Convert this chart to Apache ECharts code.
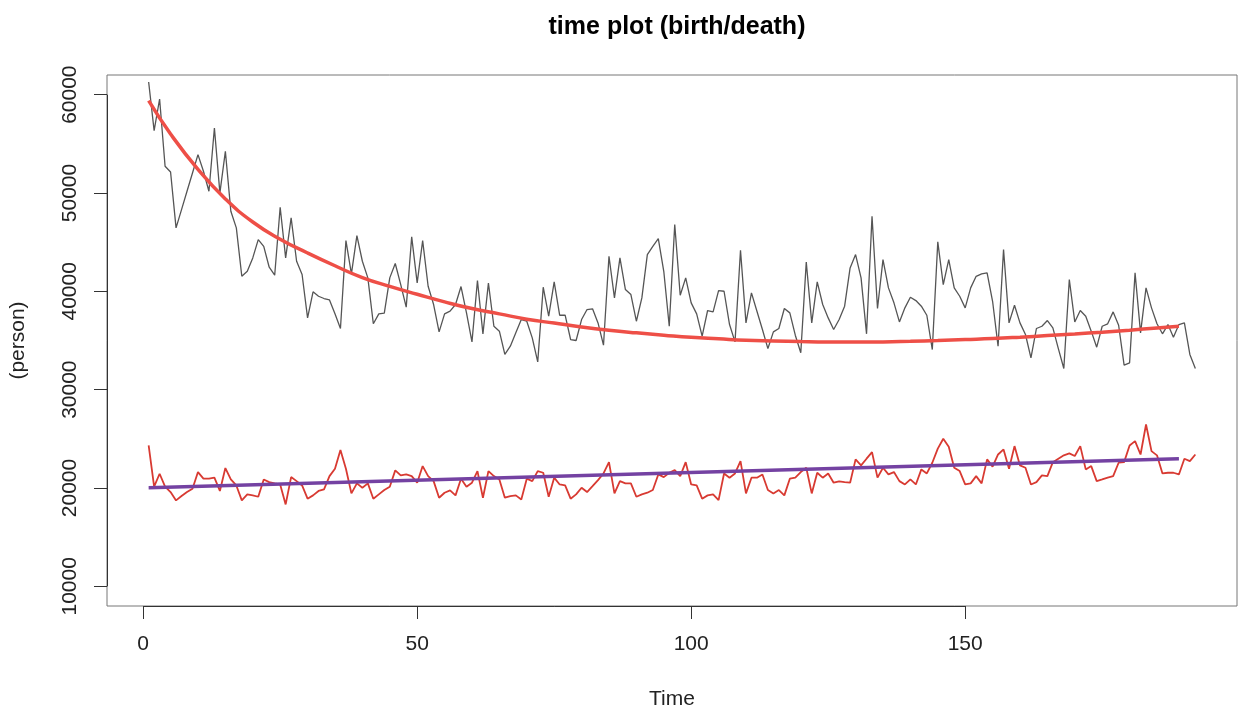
<!DOCTYPE html>
<html>
<head>
<meta charset="utf-8">
<script src="https://cdn.jsdelivr.net/npm/echarts@6/dist/echarts.min.js"></script>
<style>
html,body{margin:0;padding:0;background:#fff;}
#chart{width:1240px;height:706px;}
</style>
</head>
<body>
<div id="chart"></div>
<script>
// ---- data ----
const birth = [
61290,56340,59560,52720,52140,46450,48310,50180,52040,53900,
52210,50180,56610,50010,54240,48140,46450,41530,42040,43400,
45260,44580,42450,41640,48550,43400,47470,43060,41710,37300,
39950,39500,39270,39130,37710,36220,45160,41780,45670,43060,
41370,36700,37710,37780,41370,42830,40690,38390,45540,40860,
45160,40520,38660,35880,37710,37980,38660,40490,37810,34860,
41100,35680,40830,36450,35950,33580,34420,35780,37130,36960,
35270,32830,40420,37470,40960,37570,37570,35100,35000,37130,
38150,38220,36790,34520,43570,39330,43400,40180,39670,36960,
39330,43740,44580,45360,42040,36450,46790,39600,41370,38830,
37710,35440,38050,37910,40080,40010,36620,34860,44180,36790,
39840,37980,36120,34180,35880,36220,38250,37810,35540,33750,
42980,36790,40960,38660,37300,36120,37130,38490,42380,43740,
41370,35680,47640,38250,43230,40350,38830,36890,38320,39400,
39060,38490,37570,34080,45030,40690,43230,40350,39500,38320,
40350,41530,41780,41880,38990,34420,44250,36790,38580,36790,
35610,33240,36220,36450,37030,36290,34180,32150,41200,36890,
38050,37470,35950,34320,36450,36700,37910,36550,32490,32730,
41880,35780,40350,38320,36700,35680,36620,35340,36620,36790,
33580,32150
];
const death = [
24330,20130,21450,20130,19590,18740,19180,19590,19930,21620,
20950,20950,21050,19700,22030,20870,20260,18740,19350,19250,
19110,20870,20600,20470,20360,18330,21110,20700,20260,18910,
19250,19700,19860,21210,21960,23860,21960,19450,20470,20030,
20470,18910,19350,19790,20130,21790,21280,21380,21210,20540,
22230,21210,20700,19010,19520,19760,19250,20950,20130,20540,
21720,19010,21720,21210,20870,19010,19180,19250,18840,20950,
20700,21720,21550,19110,21050,20360,20260,18910,19350,20030,
19590,20190,20800,21480,22630,19450,20700,20470,20470,19110,
19350,19520,19790,21380,21110,21550,21820,21210,22630,20360,
20260,18910,19250,19350,18770,21480,21050,21480,22730,19450,
21050,21050,21380,19790,19450,19790,19250,20950,21050,21620,
22060,19450,21550,21050,21480,20540,20670,20600,20540,22910,
22300,22980,23650,21050,22060,21380,21620,20700,20360,20870,
20360,21890,21480,22570,24000,25010,24190,22060,21720,20360,
20470,21210,20470,22910,22170,23410,23920,21960,24260,22300,
22060,20360,20600,21280,21210,22630,22980,23320,23520,23250,
24260,21890,22230,20700,20870,21050,21210,22570,22630,24330,
24770,23410,26460,23750,23320,21480,21550,21550,21380,22980,
22730,23410
];
// fitted curve for births
const birthFitT = [1,5,10,15,20,25,30,35,40,45,50,55,60,65,70,75,80,85,90,95,100,105,110,115,120,125,130,135,140,145,150,155,160,165,170,175,180,185,189];
const birthFitV = [59390,56000,52400,49400,47050,45300,43900,42600,41400,40500,39700,38930,38250,37710,37170,36770,36380,36050,35780,35540,35320,35170,35030,34960,34900,34860,34850,34860,34920,35000,35100,35200,35340,35500,35670,35850,36050,36270,36450];
// fitted line for deaths
const deathFitT = [1,189];
const deathFitV = [20030,22980];
// ticks
const xTicks = [0,50,100,150];
const yTicks = [10000,20000,30000,40000,50000,60000];

const FONT = "'Liberation Sans', Arial, Helvetica, sans-serif";
const pairs = (arr) => arr.map((v,i)=>[i+1,v]);
const zip = (ts,vs) => ts.map((t,i)=>[t,vs[i]]);

const chart = echarts.init(document.getElementById('chart'), null, {renderer:'canvas'});
chart.setOption({
  animation:false,
  backgroundColor:'#ffffff',
  title:{
    text:'time plot (birth/death)',
    left:672, top:10, textAlign:'center',
    textStyle:{fontFamily:FONT,fontSize:25,fontWeight:'bold',color:'#000'}
  },
  grid:{left:107,right:3,top:75,bottom:100,show:true,borderColor:'#777',borderWidth:1,
        backgroundColor:'transparent',containLabel:false,outerBoundsMode:'none'},
  xAxis:{
    type:'value', min:-6.6, max:199.6,
    splitLine:{show:false},
    axisLine:{show:false,onZero:false},
    axisTick:{show:true,customValues:xTicks,length:13,lineStyle:{color:'#333',width:1}},
    axisLabel:{customValues:xTicks,margin:28,fontFamily:FONT,fontSize:21,color:'#222',formatter:(v)=>String(v)},
    name:'Time', nameLocation:'middle', nameGap:83,
    nameTextStyle:{fontFamily:FONT,fontSize:21,color:'#222'}
  },
  yAxis:{
    type:'value', min:8000, max:62000,
    splitLine:{show:false},
    axisLine:{show:false,onZero:false},
    axisTick:{show:true,customValues:yTicks,length:13,lineStyle:{color:'#333',width:1}},
    axisLabel:{customValues:yTicks,rotate:90,margin:26,fontFamily:FONT,fontSize:21,color:'#222',formatter:(v)=>String(v)},
    name:'(person)', nameLocation:'middle', nameGap:78,
    nameTextStyle:{fontFamily:FONT,fontSize:21,color:'#222'}
  },
  series:[
    {
      name:'birth', type:'line', data:pairs(birth), showSymbol:false, symbol:'none',
      lineStyle:{color:'#555555',width:1.3}, silent:true,
      markLine:{
        silent:true, symbol:'none', label:{show:false},
        lineStyle:{color:'#333',width:1,type:'solid'},
        data:[
          [{coord:[xTicks[0],8000]},{coord:[xTicks[xTicks.length-1],8000]}],
          [{coord:[-6.6,yTicks[0]]},{coord:[-6.6,yTicks[yTicks.length-1]]}]
        ]
      }
    },
    {
      name:'birth fit', type:'line', data:zip(birthFitT,birthFitV), smooth:true, showSymbol:false, symbol:'none',
      lineStyle:{color:'#ee4f47',width:3.5}, silent:true
    },
    {
      name:'death', type:'line', data:pairs(death), showSymbol:false, symbol:'none',
      lineStyle:{color:'#d83a32',width:1.8}, silent:true
    },
    {
      name:'death fit', type:'line', data:zip(deathFitT,deathFitV), showSymbol:false, symbol:'none',
      lineStyle:{color:'#7442a2',width:3.5}, silent:true
    }
  ]
});
</script>
</body>
</html>
